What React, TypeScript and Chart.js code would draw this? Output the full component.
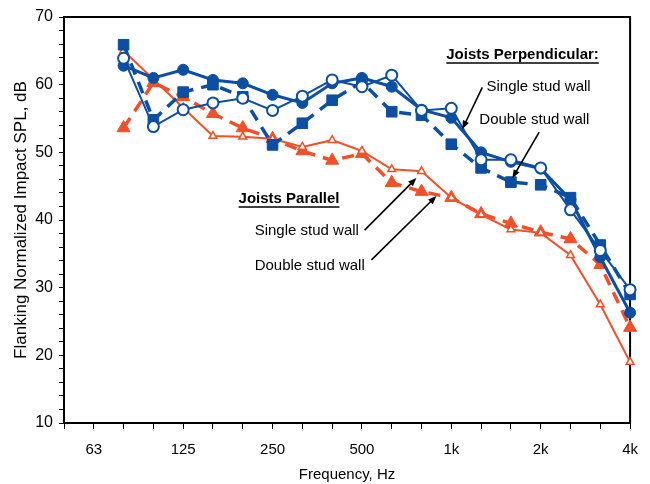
import { useEffect, useRef } from "react";
import Chart from "chart.js/auto";

// 1/3-octave bands shown on the axis (50 Hz is the left edge)
const bands = ["50", "63", "80", "100", "125", "160", "200", "250", "315", "400", "500", "630", "800", "1k", "1250", "1600", "2k", "2500", "3150", "4k"];
const labelledBands = ["63", "125", "250", "500", "1k", "2k", "4k"];

// values in dB, 80 Hz .. 4 kHz (nothing measured at 50 and 63)
const perpSingleA = [null, null, 62.8, 61.0, 62.2, 60.7, 60.2, 58.5, 57.3, 60.2, 61.0, 59.7, 56.3, 55.1, 50.0, 48.6, 47.6, 43.0, 34.5, 26.3];
const perpSingleB = [null, null, 63.9, 53.8, 56.3, 57.3, 58.0, 56.2, 58.3, 60.7, 59.7, 61.4, 56.2, 56.5, 48.9, 48.9, 47.7, 41.5, 35.5, 29.7];
const perpDouble = [null, null, 65.9, 54.8, 58.9, 60.0, 58.2, 51.1, 54.3, 57.7, 60.4, 56.0, 55.5, 51.2, 47.7, 45.6, 45.2, 43.3, 36.3, 29.0];
const parSingle = [null, null, 65.0, 60.8, 56.6, 52.4, 52.3, 52.0, 50.8, 51.8, 50.2, 47.5, 47.2, 43.3, 40.8, 38.6, 38.1, 34.8, 27.5, 19.0];
const parDouble = [null, null, 53.6, 60.3, 58.2, 55.7, 53.6, 52.0, 50.2, 48.8, 49.8, 45.5, 44.2, 43.3, 40.9, 39.5, 38.2, 37.2, 33.4, 24.1];

const BLUE = "#0b4ea2";
const RED = "#f0502a";
const FONT = "'Liberation Sans', Arial, sans-serif";

// text notes placed in data coordinates (band index, dB)
const notes = [
  { text: "Joists Perpendicular:", x: 12.83, y: 64.4, bold: true },
  { text: "Single stud wall", x: 14.18, y: 59.7, bold: false },
  { text: "Double stud wall", x: 13.94, y: 54.8, bold: false },
  { text: "Joists Parallel", x: 5.86, y: 43.1, bold: true },
  { text: "Single stud wall", x: 6.4, y: 38.4, bold: false },
  { text: "Double stud wall", x: 6.4, y: 33.2, bold: false },
];
const arrows = [
  { from: [14.04, 59.6], to: [13.37, 53.45] },
  { from: [15.95, 53.0], to: [15.05, 46.2] },
  { from: [10.09, 38.5], to: [11.83, 46.2] },
  { from: [10.32, 34.1], to: [12.5, 43.55] },
];

const framePlugin = {
  id: "frame",
  beforeDatasetsDraw(chart: any) {
    const { ctx, chartArea: a } = chart;
    ctx.save();
    ctx.strokeStyle = "#000";
    ctx.lineWidth = 2;
    ctx.strokeRect(a.left, a.top, a.right - a.left, a.bottom - a.top);
    ctx.restore();
  },
};

const notesPlugin = {
  id: "notes",
  afterDraw(chart: any) {
    const { ctx } = chart;
    const xs = chart.scales.x;
    const ys = chart.scales.y;
    ctx.save();
    ctx.fillStyle = "#000";
    ctx.strokeStyle = "#000";
    ctx.textBaseline = "middle";
    ctx.textAlign = "left";
    notes.forEach((n) => {
      const px = xs.getPixelForValue(n.x);
      const py = ys.getPixelForValue(n.y);
      ctx.font = `${n.bold ? "bold " : ""}15px ${FONT}`;
      ctx.fillText(n.text, px, py);
      if (n.bold) {
        const w = ctx.measureText(n.text).width;
        ctx.lineWidth = 1.5;
        ctx.beginPath();
        ctx.moveTo(px, py + 8);
        ctx.lineTo(px + w, py + 8);
        ctx.stroke();
      }
    });
    arrows.forEach((ar) => {
      const x1 = xs.getPixelForValue(ar.from[0]);
      const y1 = ys.getPixelForValue(ar.from[1]);
      const x2 = xs.getPixelForValue(ar.to[0]);
      const y2 = ys.getPixelForValue(ar.to[1]);
      const ang = Math.atan2(y2 - y1, x2 - x1);
      const head = 9;
      ctx.lineWidth = 1.6;
      ctx.beginPath();
      ctx.moveTo(x1, y1);
      ctx.lineTo(x2 - Math.cos(ang) * head * 0.8, y2 - Math.sin(ang) * head * 0.8);
      ctx.stroke();
      ctx.beginPath();
      ctx.moveTo(x2, y2);
      ctx.lineTo(x2 - head * Math.cos(ang - 0.38), y2 - head * Math.sin(ang - 0.38));
      ctx.lineTo(x2 - head * Math.cos(ang + 0.38), y2 - head * Math.sin(ang + 0.38));
      ctx.closePath();
      ctx.fill();
    });
    ctx.restore();
  },
};

const FlankingChart = () => {
  const canvasRef = useRef<HTMLCanvasElement>(null);

  useEffect(() => {
    if (!canvasRef.current) return;
    Chart.defaults.font.family = FONT;
    Chart.defaults.color = "#000";

    const chart = new Chart(canvasRef.current, {
      type: "line",
      data: {
        labels: bands,
        datasets: [
          {
            label: "Perpendicular, single stud wall",
            data: perpSingleA,
            borderColor: BLUE,
            backgroundColor: BLUE,
            borderWidth: 3,
            pointStyle: "circle",
            pointRadius: 5.5,
            pointBorderWidth: 1,
            order: 2,
          },
          {
            label: "Perpendicular, single stud wall (b)",
            data: perpSingleB,
            borderColor: BLUE,
            backgroundColor: "#fff",
            pointBackgroundColor: "#fff",
            borderWidth: 2,
            pointStyle: "circle",
            pointRadius: 5.5,
            pointBorderWidth: 2,
            order: 1,
          },
          {
            label: "Perpendicular, double stud wall",
            data: perpDouble,
            borderColor: BLUE,
            backgroundColor: BLUE,
            borderWidth: 3.5,
            borderDash: [12, 8],
            pointStyle: "rect",
            pointRadius: 7.5,
            pointBorderWidth: 1,
            order: 3,
          },
          {
            label: "Parallel, single stud wall",
            data: parSingle,
            borderColor: RED,
            backgroundColor: "#fff",
            pointBackgroundColor: "#fff",
            borderWidth: 2,
            pointStyle: "triangle",
            pointRadius: 4.5,
            pointBorderWidth: 1.5,
            order: 4,
          },
          {
            label: "Parallel, double stud wall",
            data: parDouble,
            borderColor: RED,
            backgroundColor: RED,
            borderWidth: 3.5,
            borderDash: [12, 8],
            pointStyle: "triangle",
            pointRadius: 7.5,
            pointBorderWidth: 1,
            order: 5,
          },
        ],
      },
      options: {
        animation: false,
        responsive: false,
        maintainAspectRatio: false,
        layout: { padding: { left: 7, right: 19, top: 17, bottom: 0 } },
        plugins: {
          legend: { display: false },
          tooltip: { enabled: false },
        },
        scales: {
          x: {
            type: "category",
            offset: false,
            grid: { drawOnChartArea: false, color: "#000", tickLength: 6, lineWidth: 1 },
            border: { color: "#000", width: 2 },
            ticks: {
              autoSkip: false,
              maxRotation: 0,
              padding: 12,
              font: { size: 15 },
              callback: function (this: any, value: any) {
                const lbl = this.getLabelForValue(value);
                return labelledBands.includes(lbl) ? lbl : "";
              },
            },
            title: {
              display: true,
              text: "Frequency, Hz",
              font: { size: 15 },
              padding: { top: 0, bottom: 0 },
            },
            afterFit: (scale: any) => {
              scale.height = 61;
            },
          },
          y: {
            min: 10,
            max: 70,
            grid: { drawOnChartArea: false, color: "#000", tickLength: 5, lineWidth: 1 },
            border: { color: "#000", width: 2 },
            ticks: {
              stepSize: 2,
              autoSkip: false,
              padding: 6,
              font: { size: 16 },
              callback: (v: any) => (Number(v) % 10 === 0 ? String(v) : ""),
            },
            title: {
              display: true,
              text: "Flanking Normalized Impact SPL, dB",
              font: { size: 17 },
              padding: { top: 4, bottom: 0 },
            },
            afterFit: (scale: any) => {
              scale.width = 57;
            },
          },
        },
      },
      plugins: [framePlugin, notesPlugin],
    });

    return () => {
      chart.destroy();
    };
  }, []);

  return <canvas ref={canvasRef} width={650} height={484}></canvas>;
};

export default function App() {
  return (
    <div style={{ position: "fixed", left: 0, top: 0, width: 650, height: 484, background: "#fff" }}>
      <FlankingChart />
    </div>
  );
}
